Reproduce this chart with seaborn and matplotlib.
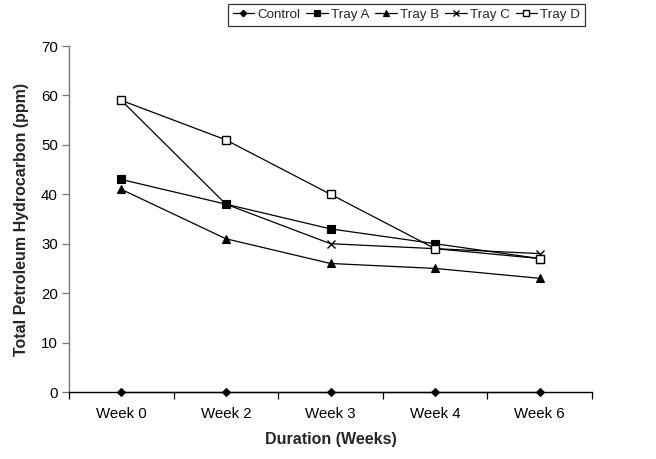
import matplotlib
matplotlib.use("Agg")
import matplotlib.pyplot as plt
import seaborn as sns
import pandas as pd
from matplotlib.ticker import FixedLocator

weeks = ["Week 0", "Week 2", "Week 3", "Week 4", "Week 6"]
control = [0, 0, 0, 0, 0]
tray_a = [43, 38, 33, 30, 27]
tray_b = [41, 31, 26, 25, 23]
tray_c = [59, 38, 30, 29, 28]
tray_d = [59, 51, 40, 29, 27]
series_names = ["Control", "Tray A", "Tray B", "Tray C", "Tray D"]
series_values = [control, tray_a, tray_b, tray_c, tray_d]

sns.set_theme(style="white")
plt.rcParams['font.family'] = ['Liberation Sans', 'DejaVu Sans']

rows = []
for name, vals in zip(series_names, series_values):
    for w, v in zip(weeks, vals):
        rows.append({"Week": w, "Value": v, "Series": name})
df = pd.DataFrame(rows)

fig = plt.figure(figsize=(6.56, 4.59), dpi=100)
ax = fig.add_axes([69 / 656, 1 - 392 / 459, (592 - 69) / 656, (392 - 46) / 459])

styles = {
    "Control": dict(marker="D", ms=4.2, mfc="black", mec="black", mew=0.8),
    "Tray A": dict(marker="s", ms=5.2, mfc="black", mec="black", mew=0.8),
    "Tray B": dict(marker="^", ms=6.0, mfc="black", mec="black", mew=0.8),
    "Tray C": dict(marker="x", ms=5.5, mfc="black", mec="black", mew=1.0),
    "Tray D": dict(marker="s", ms=5.8, mfc="white", mec="black", mew=1.0),
}

handles = []
for name in series_names:
    sub = df[df["Series"] == name]
    st = styles[name]
    sns.lineplot(data=sub, x="Week", y="Value", ax=ax, color="black",
                 linewidth=0.9, marker=st["marker"], markersize=st["ms"],
                 markerfacecolor=st["mfc"], markeredgecolor=st["mec"],
                 markeredgewidth=st["mew"], label=name, legend=False,
                 sort=False, clip_on=False, zorder=3)
    handles.append(ax.lines[-1])

ax.set_xlim(-0.5, 4.5)
ax.set_ylim(0, 70)
ax.set_yticks(range(0, 71, 10))
ax.set_xticks(range(len(weeks)))
ax.set_xticklabels(weeks)
ax.xaxis.set_minor_locator(FixedLocator([i - 0.5 for i in range(len(weeks) + 1)]))
ax.tick_params(axis="x", which="major", length=0, labelsize=10.8, pad=11, colors="black")
ax.tick_params(axis="x", which="minor", length=5, width=0.9, direction="out", color="black", bottom=True)
ax.tick_params(axis="y", which="major", length=5, width=0.9, direction="out", color="#777777",
               labelsize=10.8, pad=3, left=True, labelcolor="black")

for s in ["top", "right"]:
    ax.spines[s].set_visible(False)
ax.spines["left"].set_color("#777777")
ax.spines["left"].set_linewidth(1.0)
ax.spines["bottom"].set_color("black")
ax.spines["bottom"].set_linewidth(1.0)
ax.set_facecolor("white")

ax.set_xlabel("Duration (Weeks)", fontsize=11.5, fontweight="bold", labelpad=8)
ax.set_ylabel("Total Petroleum Hydrocarbon (ppm)", fontsize=11.5, fontweight="bold", labelpad=9)

leg = fig.legend(handles, series_names, loc="upper right", ncol=5,
                 bbox_to_anchor=(585 / 656, 1 - 4 / 459), frameon=True, fancybox=False,
                 edgecolor="black", fontsize=9.6, handlelength=1.6, handletextpad=0.25,
                 columnspacing=0.45, borderpad=0.35, borderaxespad=0, markerscale=0.8)
leg.get_frame().set_linewidth(0.9)
leg.get_frame().set_boxstyle("square", pad=0)

fig.savefig("out.png", dpi=100, facecolor="white")
